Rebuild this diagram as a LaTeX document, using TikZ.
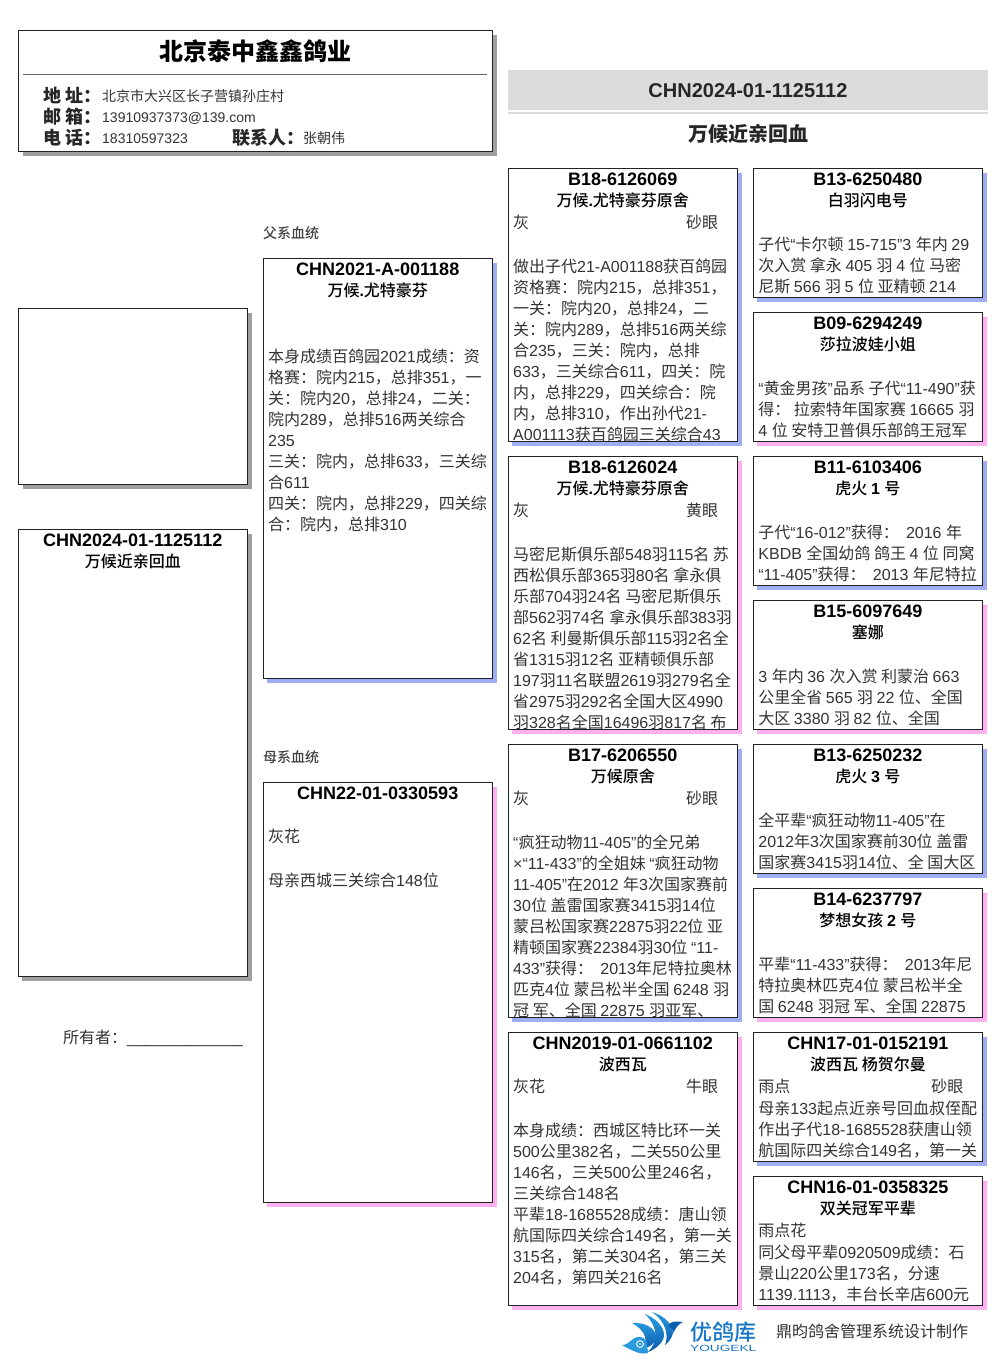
\documentclass[tikz,border=0pt]{standalone}
\usepackage{graphicx}
\usepackage{fontspec}
\setmainfont{Liberation Sans}
\newfontfamily\cjkfont{Noto Sans CJK SC}
\newfontfamily\cjkmedfont[BoldFont={Noto Sans CJK SC Medium}]{Noto Sans CJK SC}
\newcommand{\curcjk}{\cjkfont}
\XeTeXinterchartokenstate=1
\newXeTeXintercharclass\CJKcls
\newcount\cjkidx
\cjkidx="4E00
\loop
  \XeTeXcharclass\cjkidx=\CJKcls
  \advance\cjkidx by 1
\ifnum\cjkidx<"9FFF \repeat
\XeTeXcharclass"FF0C=\CJKcls
\XeTeXcharclass"FF1A=\CJKcls
\XeTeXcharclass"3001=\CJKcls
\XeTeXinterchartoks 0 \CJKcls={\curcjk}
\XeTeXinterchartoks 4095 \CJKcls={\curcjk}
\XeTeXinterchartoks \CJKcls 0={\rmfamily}
\XeTeXinterchartoks 4095 0={\rmfamily}
\definecolor{bluesh}{HTML}{9FADF2}
\definecolor{pinksh}{HTML}{FFB0EE}
\definecolor{graysh}{HTML}{A0A0A0}
\definecolor{bodyc}{HTML}{333333}
\definecolor{edgec}{HTML}{222222}
\definecolor{bandc}{HTML}{DCDCDC}
\definecolor{logoa}{HTML}{0B5DAE}
\definecolor{logob}{HTML}{1676C6}
\definecolor{logoc}{HTML}{2A9ADE}
\tikzset{
  boxbg/.style={fill=white,anchor=north west,inner sep=0pt,outer sep=0pt},
  edgeline/.style={draw=edgec,line width=0.85pt},
  idtext/.style={anchor=base,inner sep=0pt,font=\bfseries\fontsize{18}{21}\selectfont,text=black},
  nametext/.style={anchor=base,inner sep=0pt,font=\let\curcjk\cjkmedfont\bfseries\fontsize{16}{21}\selectfont,text=black},
  bodytext/.style={anchor=north west,inner sep=0pt,align=left,font=\fontsize{16}{21}\selectfont,text=bodyc},
  infolabel/.style={anchor=base west,inner sep=0pt,font=\bfseries\fontsize{18}{21}\selectfont,text=black!85},
  infovalue/.style={anchor=base west,inner sep=0pt,font=\fontsize{14}{21}\selectfont,text=bodyc},
  sidehead/.style={anchor=base west,inner sep=0pt,font=\let\curcjk\cjkmedfont\bfseries\fontsize{14}{18}\selectfont,text=black!75},
  logoband/.style={top color=logoc,bottom color=logoa,draw=none},
}
\newcommand{\st}{\rule{0pt}{16pt}}
\newcommand{\colr}[2]{\makebox[173pt][l]{#1}#2}
\newcommand{\pedbox}[9]{%
  \fill[#6] (#2+4,#3+3.5) rectangle ++(#4,#5+1);
  \node[boxbg,minimum width=#4pt,minimum height=#5pt+1pt] (#1) at (#2,#3-0.5) {};
  \begin{scope}
    \clip (#1.north west) rectangle (#1.south east);
    \node[idtext] (#1id) at (#2+#4/2,#3+16.5) {#7};
    \node[nametext] (#1nm) at (#2+#4/2,#3+37) {#8};
    \node[bodytext] (#1tx) at (#2+5,#3+43) {\st #9};
  \end{scope}
  \draw[edgeline] (#1.north west) rectangle (#1.south east);
}
\begin{document}
\begin{tikzpicture}[x=1pt,y=-1pt]
\useasboundingbox (0,0) rectangle (1006,1366);
\fill[white] (0,0) rectangle (1006,1366);
% company card
\fill[graysh] (22.5,34.5) rectangle (497,155.5);
\node[boxbg,minimum width=474.5pt,minimum height=121pt] (card) at (18,30) {};
\draw[edgeline] (card.north west) rectangle (card.south east);
\coordinate (ruleL) at (23,74);
\coordinate (ruleR) at (487,74);
\draw[black!60,line width=0.8pt] (ruleL) -- (ruleR);
\node[anchor=base,inner sep=0pt,font=\bfseries\fontsize{24}{28}\selectfont] (title) at (255.5,60) {北京泰中鑫鑫鸽业};
\node[infolabel] (l1) at (43,102.5) {地 址：};
\node[infolabel] (l2) at (43,123.5) {邮 箱：};
\node[infolabel] (l3) at (43,144.5) {电 话：};
\node[infovalue] (v1) at (102,101.5) {北京市大兴区长子营镇孙庄村};
\node[infovalue] (v2) at (102,122.5) {13910937373@139.com};
\node[infovalue] (v3) at (102,143.5) {18310597323};
\node[infolabel] (l4) at (232,144.5) {联系人：};
\node[infovalue] (v4) at (303,143.5) {张朝伟};
% band
\fill[bandc] (508,70) rectangle (988,110);
\fill[bandc] (508,112) rectangle (988,114);
\node[anchor=base,inner sep=0pt,font=\bfseries\fontsize{20}{24}\selectfont,text=black!85] (ringno) at (748,97) {CHN2024-01-1125112};
\node[anchor=base,inner sep=0pt,font=\bfseries\fontsize{20}{24}\selectfont,text=black!85] (birdname) at (748,141) {万候近亲回血};
% left column
\fill[graysh] (22.5,312.5) rectangle (252,488.5);
\node[boxbg,minimum width=229.5pt,minimum height=176pt] (photo) at (18,308.5) {};
\draw[edgeline] (photo.north west) rectangle (photo.south east);
\pedbox{self}{18}{530}{229.5}{446}{graysh}{CHN2024-01-1125112}{万候近亲回血}{}
\node[anchor=base west,inner sep=0pt,font=\fontsize{16}{21}\selectfont,text=bodyc] (owner) at (63,1043) {所有者：\_\_\_\_\_\_\_\_\_\_\_\_\_};
% middle column
\node[sidehead] (fa) at (263,238) {父系血统};
\pedbox{sire}{263}{259}{229.5}{419}{bluesh}{CHN2021-A-001188}{万候.尤特豪芬}{\\[23pt]
本身成绩百鸽园2021成绩：资\\
格赛：院内215，总排351，一\\
关：院内20，总排24，二关：\\
院内289，总排516两关综合\\
235\\
三关：院内，总排633，三关综\\
合611\\
四关：院内，总排229，四关综\\
合：院内，总排310}
\node[sidehead] (mo) at (263,762) {母系血统};
\pedbox{dam}{263}{783}{229.5}{419}{pinksh}{CHN22-01-0330593}{}{灰花\\[23pt]
母亲西城三关综合148位}
% third column
\pedbox{ss}{508}{169}{229.5}{272}{bluesh}{B18-6126069}{万候.尤特豪芬原舍}{\colr{灰}{砂眼}\\[23pt]
做出子代21-A001188获百鸽园\\
资格赛：院内215，总排351，\\
一关：院内20，总排24，二\\
关：院内289，总排516两关综\\
合235，三关：院内，总排\\
633，三关综合611，四关：院\\
内，总排229，四关综合：院\\
内，总排310，作出孙代21-\\
A001113获百鸽园三关综合43}
\pedbox{sd}{508}{457}{229.5}{272}{pinksh}{B18-6126024}{万候.尤特豪芬原舍}{\colr{灰}{黄眼}\\[23pt]
马密尼斯俱乐部548羽115名 苏\\
西松俱乐部365羽80名 拿永俱\\
乐部704羽24名 马密尼斯俱乐\\
部562羽74名 拿永俱乐部383羽\\
62名 利曼斯俱乐部115羽2名全\\
省1315羽12名 亚精顿俱乐部\\
197羽11名联盟2619羽279名全\\
省2975羽292名全国大区4990\\
羽328名全国16496羽817名 布}
\pedbox{ds}{508}{745}{229.5}{272}{bluesh}{B17-6206550}{万候原舍}{\colr{灰}{砂眼}\\[23pt]
“疯狂动物11-405”的全兄弟\\
×“11-433”的全姐妹 “疯狂动物\\
11-405”在2012 年3次国家赛前\\
30位 盖雷国家赛3415羽14位\\
蒙吕松国家赛22875羽22位 亚\\
精顿国家赛22384羽30位 “11-\\
433”获得：\ \ 2013年尼特拉奥林\\
匹克4位 蒙吕松半全国 6248 羽\\
冠 军、全国 22875 羽亚军、}
\pedbox{dd}{508}{1033}{229.5}{272}{pinksh}{CHN2019-01-0661102}{波西瓦}{\colr{灰花}{牛眼}\\[23pt]
本身成绩：西城区特比环一关\\
500公里382名，二关550公里\\
146名，三关500公里246名，\\
三关综合148名\\
平辈18-1685528成绩：唐山领\\
航国际四关综合149名，第一关\\
315名，第二关304名，第三关\\
204名，第四关216名}
% fourth column
\pedbox{a1}{753.2}{169}{229.5}{128}{bluesh}{B13-6250480}{白羽闪电号}{\\[1pt]
子代“卡尔顿 15-715”3 年内 29\\
次入赏 拿永 405 羽 4 位 马密\\
尼斯 566 羽 5 位 亚精顿 214}
\pedbox{a2}{753.2}{313}{229.5}{128}{pinksh}{B09-6294249}{莎拉波娃小姐}{\\[1pt]
“黄金男孩”品系 子代“11-490”获\\
得：\ 拉索特年国家赛 16665 羽\\
4 位 安特卫普俱乐部鸽王冠军}
\pedbox{a3}{753.2}{457}{229.5}{128}{bluesh}{B11-6103406}{虎火 1 号}{\\[1pt]
子代“16-012”获得：\ \ 2016 年\\
KBDB 全国幼鸽 鸽王 4 位 同窝\\
“11-405”获得：\ \ 2013 年尼特拉}
\pedbox{a4}{753.2}{601}{229.5}{128}{pinksh}{B15-6097649}{塞娜}{\\[1pt]
3 年内 36 次入赏 利蒙治 663\\
公里全省 565 羽 22 位、全国\\
大区 3380 羽 82 位、全国}
\pedbox{a5}{753.2}{745}{229.5}{128}{bluesh}{B13-6250232}{虎火 3 号}{\\[1pt]
全平辈“疯狂动物11-405”在\\
2012年3次国家赛前30位 盖雷\\
国家赛3415羽14位、全 国大区}
\pedbox{a6}{753.2}{889}{229.5}{128}{pinksh}{B14-6237797}{梦想女孩 2 号}{\\[1pt]
平辈“11-433”获得：\ \ 2013年尼\\
特拉奥林匹克4位 蒙吕松半全\\
国 6248 羽冠 军、全国 22875}
\pedbox{a7}{753.2}{1033}{229.5}{128}{bluesh}{CHN17-01-0152191}{波西瓦 杨贺尔曼}{\colr{雨点}{砂眼}\\[1pt]
母亲133起点近亲号回血叔侄配\\
作出子代18-1685528获唐山领\\
航国际四关综合149名，第一关}
\pedbox{a8}{753.2}{1177}{229.5}{128}{pinksh}{CHN16-01-0358325}{双关冠军平辈}{雨点花\\[1pt]
同父母平辈0920509成绩：石\\
景山220公里173名，分速\\
1139.1113，丰台长辛店600元}
% logo
\path[logoband] (632,1323) .. controls (645,1322) and (655,1328) .. (656,1336) .. controls (657,1342) and (650,1348) .. (641,1349) .. controls (648,1343) and (648,1332) .. (632,1323) -- cycle;
\path[logoband] (645,1314) .. controls (655,1318) and (664,1326) .. (664,1335) .. controls (664,1342) and (656,1349) .. (648,1352) .. controls (658,1342) and (659,1328) .. (645,1314) -- cycle;
\path[logoband] (652,1312) .. controls (662,1315) and (672,1322) .. (673,1333) .. controls (672,1338) and (668,1343) .. (665,1345) .. controls (669,1335) and (666,1322) .. (652,1312) -- cycle;
\fill[logoa] (668,1326) .. controls (670,1321) and (676,1321) .. (683,1322) .. controls (678,1324) and (676,1328) .. (673,1333) .. controls (673,1329) and (671,1327) .. (668,1326) -- cycle;
\fill[logoc] (622,1345) .. controls (630,1345) and (631,1337) .. (639,1337) .. controls (646,1337) and (648,1343) .. (647,1347) .. controls (647,1350) and (649,1352) .. (648,1353) .. controls (642,1355) and (634,1352) .. (622,1345) -- cycle;
\draw[white,line width=0.9pt] (640,1344) circle[radius=3.4];
\fill[white] (640,1344) circle[radius=0.8];
\node[anchor=base west,inner sep=0pt,font=\let\curcjk\cjkmedfont\bfseries\fontsize{22}{24}\selectfont,text=logob] (brand) at (690,1340) {优鸽库};
\node[anchor=base west,inner sep=0pt,font=\fontsize{9}{10}\selectfont,text=logob] (brandlat) at (690,1351) {\scalebox{1.52}[1]{YOUGEKL}};
\node[anchor=base west,inner sep=0pt,font=\fontsize{16}{20}\selectfont,text=bodyc] (credit) at (776,1337) {鼎昀鸽舍管理系统设计制作};
\end{tikzpicture}
\end{document}
